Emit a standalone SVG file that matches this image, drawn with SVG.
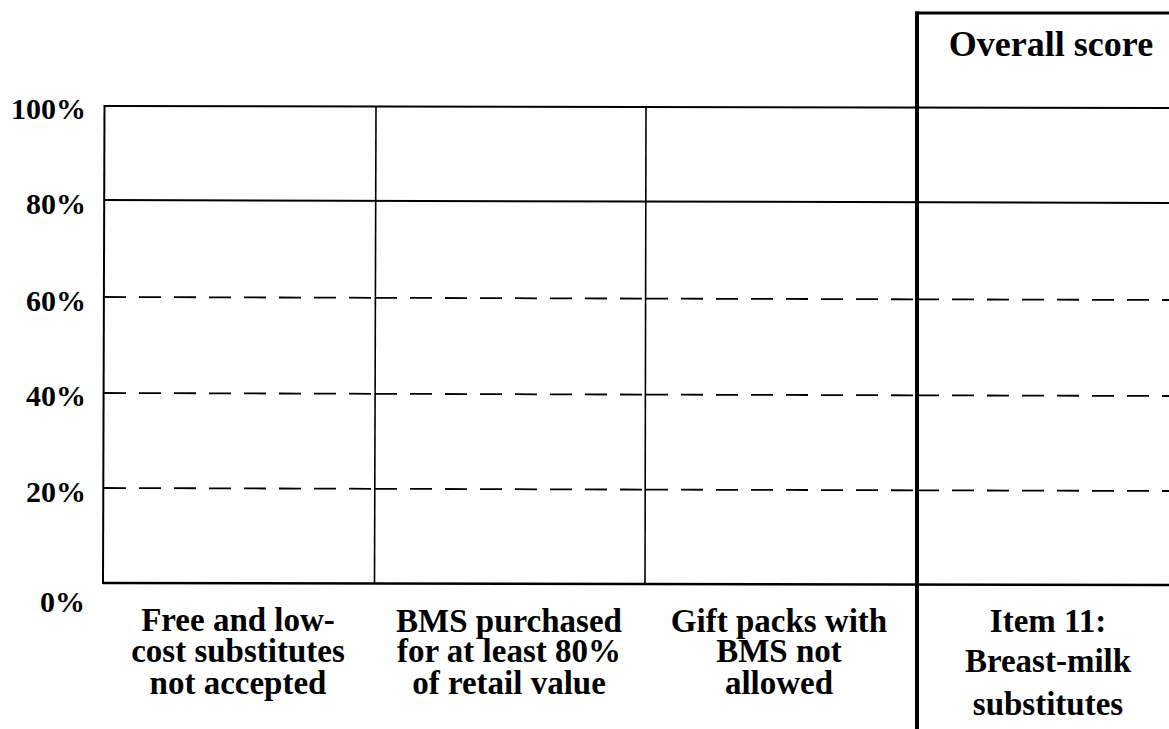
<svg xmlns="http://www.w3.org/2000/svg" width="1169" height="729" viewBox="0 0 1169 729">
<style>
.bg{fill:#fff}
.solid{stroke:#000;stroke-width:2;fill:none}
.thin{stroke:#000;stroke-width:1.6;fill:none}
.thick{stroke:#000;stroke-width:4;fill:none}
.dash{stroke:#000;stroke-width:1.8;fill:none;stroke-dasharray:22 13}
.ylab{font-family:"Liberation Serif","Times New Roman",serif;font-weight:bold;font-size:30px;fill:#000;text-anchor:end}
.cat{font-family:"Liberation Serif","Times New Roman",serif;font-weight:bold;font-size:33px;fill:#000;text-anchor:middle}
.title{font-family:"Liberation Serif","Times New Roman",serif;font-weight:bold;font-size:36px;fill:#000;text-anchor:middle}
</style>
<rect class="bg" x="0" y="0" width="1169" height="729"/>
<g id="grid">
  <line class="solid" x1="104" y1="106" x2="1169" y2="108"/>
  <line class="solid" x1="104" y1="200" x2="1169" y2="203"/>
  <line class="dash" x1="104" y1="297" x2="376" y2="297.8"/>
  <line class="dash" x1="375" y1="297.8" x2="646" y2="298.6"/>
  <line class="dash" x1="646" y1="298.6" x2="917" y2="299.3"/>
  <line class="dash" x1="917" y1="299.3" x2="1169" y2="300"/>
  <line class="dash" x1="104" y1="393" x2="376" y2="393.8"/>
  <line class="dash" x1="375" y1="393.8" x2="646" y2="394.6"/>
  <line class="dash" x1="646" y1="394.6" x2="917" y2="395.3"/>
  <line class="dash" x1="917" y1="395.3" x2="1169" y2="396"/>
  <line class="dash" x1="104" y1="488" x2="376" y2="488.8"/>
  <line class="dash" x1="375" y1="488.8" x2="646" y2="489.6"/>
  <line class="dash" x1="646" y1="489.6" x2="917" y2="490.3"/>
  <line class="dash" x1="917" y1="490.3" x2="1169" y2="491"/>
  <line class="solid" x1="103" y1="583" x2="1169" y2="585" style="stroke-width:2.4"/>
  <line class="solid" x1="104.5" y1="105" x2="103" y2="584"/>
  <line class="thin" x1="376" y1="106" x2="374.5" y2="584"/>
  <line class="thin" x1="646" y1="107" x2="645" y2="584"/>
</g>
<g id="overall-box">
  <line class="thick" x1="917" y1="11.5" x2="917" y2="729"/>
  <line class="solid" x1="915" y1="13" x2="1169" y2="13" style="stroke-width:3"/>
  <text class="title" x="1051" y="56">Overall score</text>
</g>
<g id="y-axis-labels">
  <text class="ylab" x="86" y="119">100%</text>
  <text class="ylab" x="86" y="214">80%</text>
  <text class="ylab" x="86" y="311">60%</text>
  <text class="ylab" x="86" y="406">40%</text>
  <text class="ylab" x="86" y="502">20%</text>
  <text class="ylab" x="85" y="612">0%</text>
</g>
<g id="cat-1">
  <text class="cat" x="238" y="631">Free and low-</text>
  <text class="cat" x="238" y="662">cost substitutes</text>
  <text class="cat" x="238" y="694">not accepted</text>
</g>
<g id="cat-2">
  <text class="cat" x="509" y="632">BMS purchased</text>
  <text class="cat" x="509" y="662">for at least 80%</text>
  <text class="cat" x="509" y="694">of retail value</text>
</g>
<g id="cat-3">
  <text class="cat" x="779" y="632">Gift packs with</text>
  <text class="cat" x="779" y="662">BMS not</text>
  <text class="cat" x="779" y="694">allowed</text>
</g>
<g id="cat-4">
  <text class="cat" x="1048" y="632">Item 11:</text>
  <text class="cat" x="1048" y="672">Breast-milk</text>
  <text class="cat" x="1048" y="715">substitutes</text>
</g>
</svg>
